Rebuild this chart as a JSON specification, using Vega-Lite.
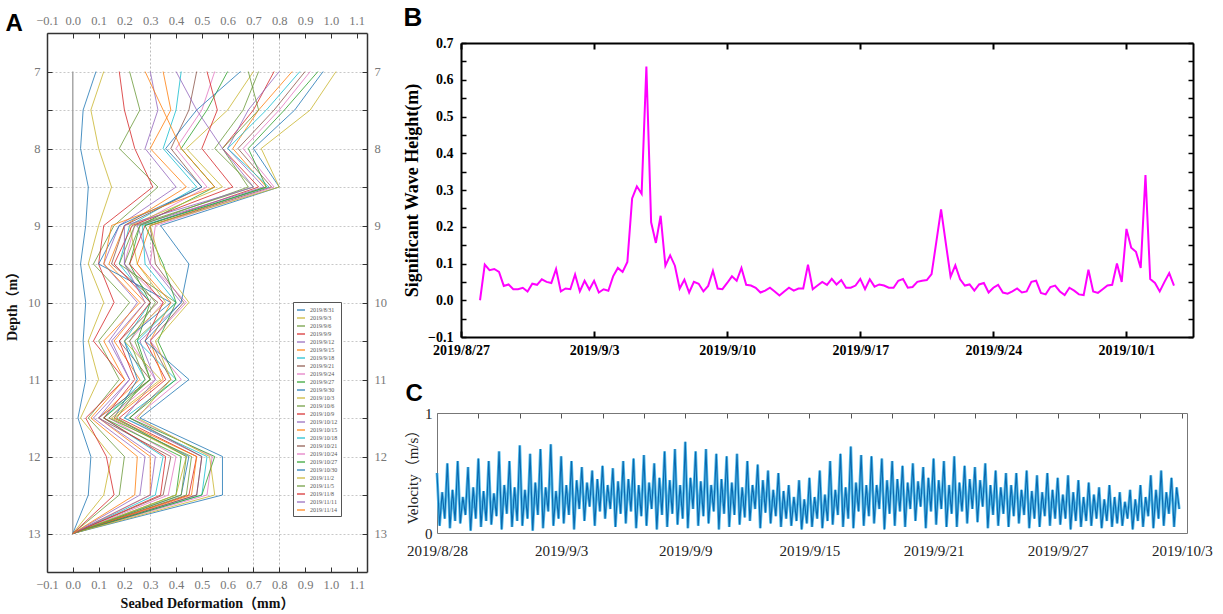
{
"$schema":"https://vega.github.io/schema/vega-lite/v6.json",
"background":"white",
"padding":5,
"config":{"view":{"stroke":null},"font":"Liberation Serif","axis":{"labelFlush":false}},
"datasets":{
"base":[{"y":7,"x":0},{"y":13,"x":0}],
"prof":[
{"s":"2019/8/31","y":7,"x":0.09},{"s":"2019/8/31","y":7.5,"x":0.04},{"s":"2019/8/31","y":8,"x":0.03},{"s":"2019/8/31","y":8.5,"x":0.06},{"s":"2019/8/31","y":9,"x":0.05},{"s":"2019/8/31","y":9.5,"x":0.03},{"s":"2019/8/31","y":10,"x":0.05},{"s":"2019/8/31","y":10.5,"x":0.04},{"s":"2019/8/31","y":11,"x":0.05},{"s":"2019/8/31","y":11.5,"x":0.02},{"s":"2019/8/31","y":12,"x":0.07},{"s":"2019/8/31","y":12.5,"x":0.06},{"s":"2019/8/31","y":13,"x":0},
{"s":"2019/9/3","y":7,"x":0.12},{"s":"2019/9/3","y":7.5,"x":0.07},{"s":"2019/9/3","y":8,"x":0.1},{"s":"2019/9/3","y":8.5,"x":0.15},{"s":"2019/9/3","y":9,"x":0.1},{"s":"2019/9/3","y":9.5,"x":0.06},{"s":"2019/9/3","y":10,"x":0.12},{"s":"2019/9/3","y":10.5,"x":0.06},{"s":"2019/9/3","y":11,"x":0.1},{"s":"2019/9/3","y":11.5,"x":0.03},{"s":"2019/9/3","y":12,"x":0.15},{"s":"2019/9/3","y":12.5,"x":0.12},{"s":"2019/9/3","y":13,"x":0},
{"s":"2019/9/6","y":7,"x":0.22},{"s":"2019/9/6","y":7.5,"x":0.26},{"s":"2019/9/6","y":8,"x":0.18},{"s":"2019/9/6","y":8.5,"x":0.33},{"s":"2019/9/6","y":9,"x":0.16},{"s":"2019/9/6","y":9.5,"x":0.08},{"s":"2019/9/6","y":10,"x":0.22},{"s":"2019/9/6","y":10.5,"x":0.1},{"s":"2019/9/6","y":11,"x":0.18},{"s":"2019/9/6","y":11.5,"x":0.06},{"s":"2019/9/6","y":12,"x":0.2},{"s":"2019/9/6","y":12.5,"x":0.18},{"s":"2019/9/6","y":13,"x":0},
{"s":"2019/9/9","y":7,"x":0.18},{"s":"2019/9/9","y":7.5,"x":0.2},{"s":"2019/9/9","y":8,"x":0.24},{"s":"2019/9/9","y":8.5,"x":0.31},{"s":"2019/9/9","y":9,"x":0.12},{"s":"2019/9/9","y":9.5,"x":0.1},{"s":"2019/9/9","y":10,"x":0.16},{"s":"2019/9/9","y":10.5,"x":0.08},{"s":"2019/9/9","y":11,"x":0.2},{"s":"2019/9/9","y":11.5,"x":0.05},{"s":"2019/9/9","y":12,"x":0.13},{"s":"2019/9/9","y":12.5,"x":0.16},{"s":"2019/9/9","y":13,"x":0},
{"s":"2019/9/12","y":7,"x":0.3},{"s":"2019/9/12","y":7.5,"x":0.33},{"s":"2019/9/12","y":8,"x":0.28},{"s":"2019/9/12","y":8.5,"x":0.4},{"s":"2019/9/12","y":9,"x":0.18},{"s":"2019/9/12","y":9.5,"x":0.12},{"s":"2019/9/12","y":10,"x":0.25},{"s":"2019/9/12","y":10.5,"x":0.14},{"s":"2019/9/12","y":11,"x":0.22},{"s":"2019/9/12","y":11.5,"x":0.08},{"s":"2019/9/12","y":12,"x":0.28},{"s":"2019/9/12","y":12.5,"x":0.26},{"s":"2019/9/12","y":13,"x":0},
{"s":"2019/9/15","y":7,"x":0.35},{"s":"2019/9/15","y":7.5,"x":0.38},{"s":"2019/9/15","y":8,"x":0.3},{"s":"2019/9/15","y":8.5,"x":0.44},{"s":"2019/9/15","y":9,"x":0.2},{"s":"2019/9/15","y":9.5,"x":0.14},{"s":"2019/9/15","y":10,"x":0.28},{"s":"2019/9/15","y":10.5,"x":0.16},{"s":"2019/9/15","y":11,"x":0.26},{"s":"2019/9/15","y":11.5,"x":0.1},{"s":"2019/9/15","y":12,"x":0.3},{"s":"2019/9/15","y":12.5,"x":0.3},{"s":"2019/9/15","y":13,"x":0},
{"s":"2019/9/18","y":7,"x":0.42},{"s":"2019/9/18","y":7.5,"x":0.4},{"s":"2019/9/18","y":8,"x":0.35},{"s":"2019/9/18","y":8.5,"x":0.48},{"s":"2019/9/18","y":9,"x":0.22},{"s":"2019/9/18","y":9.5,"x":0.18},{"s":"2019/9/18","y":10,"x":0.3},{"s":"2019/9/18","y":10.5,"x":0.2},{"s":"2019/9/18","y":11,"x":0.28},{"s":"2019/9/18","y":11.5,"x":0.12},{"s":"2019/9/18","y":12,"x":0.35},{"s":"2019/9/18","y":12.5,"x":0.32},{"s":"2019/9/18","y":13,"x":0},
{"s":"2019/9/21","y":7,"x":0.48},{"s":"2019/9/21","y":7.5,"x":0.45},{"s":"2019/9/21","y":8,"x":0.38},{"s":"2019/9/21","y":8.5,"x":0.5},{"s":"2019/9/21","y":9,"x":0.2},{"s":"2019/9/21","y":9.5,"x":0.15},{"s":"2019/9/21","y":10,"x":0.33},{"s":"2019/9/21","y":10.5,"x":0.18},{"s":"2019/9/21","y":11,"x":0.3},{"s":"2019/9/21","y":11.5,"x":0.1},{"s":"2019/9/21","y":12,"x":0.38},{"s":"2019/9/21","y":12.5,"x":0.35},{"s":"2019/9/21","y":13,"x":0},
{"s":"2019/9/24","y":7,"x":0.55},{"s":"2019/9/24","y":7.5,"x":0.5},{"s":"2019/9/24","y":8,"x":0.4},{"s":"2019/9/24","y":8.5,"x":0.52},{"s":"2019/9/24","y":9,"x":0.24},{"s":"2019/9/24","y":9.5,"x":0.2},{"s":"2019/9/24","y":10,"x":0.35},{"s":"2019/9/24","y":10.5,"x":0.22},{"s":"2019/9/24","y":11,"x":0.32},{"s":"2019/9/24","y":11.5,"x":0.14},{"s":"2019/9/24","y":12,"x":0.4},{"s":"2019/9/24","y":12.5,"x":0.37},{"s":"2019/9/24","y":13,"x":0},
{"s":"2019/9/27","y":7,"x":0.6},{"s":"2019/9/27","y":7.5,"x":0.52},{"s":"2019/9/27","y":8,"x":0.42},{"s":"2019/9/27","y":8.5,"x":0.55},{"s":"2019/9/27","y":9,"x":0.26},{"s":"2019/9/27","y":9.5,"x":0.22},{"s":"2019/9/27","y":10,"x":0.3},{"s":"2019/9/27","y":10.5,"x":0.25},{"s":"2019/9/27","y":11,"x":0.3},{"s":"2019/9/27","y":11.5,"x":0.12},{"s":"2019/9/27","y":12,"x":0.42},{"s":"2019/9/27","y":12.5,"x":0.4},{"s":"2019/9/27","y":13,"x":0},
{"s":"2019/9/30","y":7,"x":0.65},{"s":"2019/9/30","y":7.5,"x":0.48},{"s":"2019/9/30","y":8,"x":0.36},{"s":"2019/9/30","y":8.5,"x":0.5},{"s":"2019/9/30","y":9,"x":0.18},{"s":"2019/9/30","y":9.5,"x":0.1},{"s":"2019/9/30","y":10,"x":0.38},{"s":"2019/9/30","y":10.5,"x":0.2},{"s":"2019/9/30","y":11,"x":0.25},{"s":"2019/9/30","y":11.5,"x":0.16},{"s":"2019/9/30","y":12,"x":0.45},{"s":"2019/9/30","y":12.5,"x":0.42},{"s":"2019/9/30","y":13,"x":0},
{"s":"2019/10/3","y":7,"x":0.7},{"s":"2019/10/3","y":7.5,"x":0.6},{"s":"2019/10/3","y":8,"x":0.44},{"s":"2019/10/3","y":8.5,"x":0.58},{"s":"2019/10/3","y":9,"x":0.22},{"s":"2019/10/3","y":9.5,"x":0.25},{"s":"2019/10/3","y":10,"x":0.36},{"s":"2019/10/3","y":10.5,"x":0.2},{"s":"2019/10/3","y":11,"x":0.34},{"s":"2019/10/3","y":11.5,"x":0.15},{"s":"2019/10/3","y":12,"x":0.44},{"s":"2019/10/3","y":12.5,"x":0.4},{"s":"2019/10/3","y":13,"x":0},
{"s":"2019/10/6","y":7,"x":0.72},{"s":"2019/10/6","y":7.5,"x":0.66},{"s":"2019/10/6","y":8,"x":0.55},{"s":"2019/10/6","y":8.5,"x":0.7},{"s":"2019/10/6","y":9,"x":0.24},{"s":"2019/10/6","y":9.5,"x":0.18},{"s":"2019/10/6","y":10,"x":0.4},{"s":"2019/10/6","y":10.5,"x":0.24},{"s":"2019/10/6","y":11,"x":0.3},{"s":"2019/10/6","y":11.5,"x":0.14},{"s":"2019/10/6","y":12,"x":0.46},{"s":"2019/10/6","y":12.5,"x":0.44},{"s":"2019/10/6","y":13,"x":0},
{"s":"2019/10/9","y":7,"x":0.78},{"s":"2019/10/9","y":7.5,"x":0.7},{"s":"2019/10/9","y":8,"x":0.58},{"s":"2019/10/9","y":8.5,"x":0.72},{"s":"2019/10/9","y":9,"x":0.28},{"s":"2019/10/9","y":9.5,"x":0.22},{"s":"2019/10/9","y":10,"x":0.35},{"s":"2019/10/9","y":10.5,"x":0.28},{"s":"2019/10/9","y":11,"x":0.36},{"s":"2019/10/9","y":11.5,"x":0.18},{"s":"2019/10/9","y":12,"x":0.48},{"s":"2019/10/9","y":12.5,"x":0.45},{"s":"2019/10/9","y":13,"x":0},
{"s":"2019/10/12","y":7,"x":0.8},{"s":"2019/10/12","y":7.5,"x":0.68},{"s":"2019/10/12","y":8,"x":0.6},{"s":"2019/10/12","y":8.5,"x":0.74},{"s":"2019/10/12","y":9,"x":0.25},{"s":"2019/10/12","y":9.5,"x":0.3},{"s":"2019/10/12","y":10,"x":0.42},{"s":"2019/10/12","y":10.5,"x":0.26},{"s":"2019/10/12","y":11,"x":0.32},{"s":"2019/10/12","y":11.5,"x":0.2},{"s":"2019/10/12","y":12,"x":0.5},{"s":"2019/10/12","y":12.5,"x":0.48},{"s":"2019/10/12","y":13,"x":0},
{"s":"2019/10/15","y":7,"x":0.85},{"s":"2019/10/15","y":7.5,"x":0.72},{"s":"2019/10/15","y":8,"x":0.62},{"s":"2019/10/15","y":8.5,"x":0.75},{"s":"2019/10/15","y":9,"x":0.3},{"s":"2019/10/15","y":9.5,"x":0.25},{"s":"2019/10/15","y":10,"x":0.38},{"s":"2019/10/15","y":10.5,"x":0.3},{"s":"2019/10/15","y":11,"x":0.35},{"s":"2019/10/15","y":11.5,"x":0.16},{"s":"2019/10/15","y":12,"x":0.48},{"s":"2019/10/15","y":12.5,"x":0.46},{"s":"2019/10/15","y":13,"x":0},
{"s":"2019/10/18","y":7,"x":0.88},{"s":"2019/10/18","y":7.5,"x":0.75},{"s":"2019/10/18","y":8,"x":0.6},{"s":"2019/10/18","y":8.5,"x":0.76},{"s":"2019/10/18","y":9,"x":0.27},{"s":"2019/10/18","y":9.5,"x":0.28},{"s":"2019/10/18","y":10,"x":0.4},{"s":"2019/10/18","y":10.5,"x":0.25},{"s":"2019/10/18","y":11,"x":0.4},{"s":"2019/10/18","y":11.5,"x":0.2},{"s":"2019/10/18","y":12,"x":0.52},{"s":"2019/10/18","y":12.5,"x":0.5},{"s":"2019/10/18","y":13,"x":0},
{"s":"2019/10/21","y":7,"x":0.9},{"s":"2019/10/21","y":7.5,"x":0.78},{"s":"2019/10/21","y":8,"x":0.64},{"s":"2019/10/21","y":8.5,"x":0.77},{"s":"2019/10/21","y":9,"x":0.3},{"s":"2019/10/21","y":9.5,"x":0.32},{"s":"2019/10/21","y":10,"x":0.43},{"s":"2019/10/21","y":10.5,"x":0.3},{"s":"2019/10/21","y":11,"x":0.38},{"s":"2019/10/21","y":11.5,"x":0.22},{"s":"2019/10/21","y":12,"x":0.5},{"s":"2019/10/21","y":12.5,"x":0.48},{"s":"2019/10/21","y":13,"x":0},
{"s":"2019/10/24","y":7,"x":0.92},{"s":"2019/10/24","y":7.5,"x":0.8},{"s":"2019/10/24","y":8,"x":0.66},{"s":"2019/10/24","y":8.5,"x":0.78},{"s":"2019/10/24","y":9,"x":0.32},{"s":"2019/10/24","y":9.5,"x":0.3},{"s":"2019/10/24","y":10,"x":0.44},{"s":"2019/10/24","y":10.5,"x":0.3},{"s":"2019/10/24","y":11,"x":0.42},{"s":"2019/10/24","y":11.5,"x":0.24},{"s":"2019/10/24","y":12,"x":0.54},{"s":"2019/10/24","y":12.5,"x":0.52},{"s":"2019/10/24","y":13,"x":0},
{"s":"2019/10/27","y":7,"x":0.95},{"s":"2019/10/27","y":7.5,"x":0.82},{"s":"2019/10/27","y":8,"x":0.68},{"s":"2019/10/27","y":8.5,"x":0.75},{"s":"2019/10/27","y":9,"x":0.28},{"s":"2019/10/27","y":9.5,"x":0.35},{"s":"2019/10/27","y":10,"x":0.4},{"s":"2019/10/27","y":10.5,"x":0.33},{"s":"2019/10/27","y":11,"x":0.4},{"s":"2019/10/27","y":11.5,"x":0.22},{"s":"2019/10/27","y":12,"x":0.55},{"s":"2019/10/27","y":12.5,"x":0.5},{"s":"2019/10/27","y":13,"x":0},
{"s":"2019/10/30","y":7,"x":0.97},{"s":"2019/10/30","y":7.5,"x":0.86},{"s":"2019/10/30","y":8,"x":0.7},{"s":"2019/10/30","y":8.5,"x":0.8},{"s":"2019/10/30","y":9,"x":0.34},{"s":"2019/10/30","y":9.5,"x":0.45},{"s":"2019/10/30","y":10,"x":0.42},{"s":"2019/10/30","y":10.5,"x":0.28},{"s":"2019/10/30","y":11,"x":0.45},{"s":"2019/10/30","y":11.5,"x":0.26},{"s":"2019/10/30","y":12,"x":0.58},{"s":"2019/10/30","y":12.5,"x":0.58},{"s":"2019/10/30","y":13,"x":0},
{"s":"2019/11/2","y":7,"x":1.02},{"s":"2019/11/2","y":7.5,"x":0.92},{"s":"2019/11/2","y":8,"x":0.73},{"s":"2019/11/2","y":8.5,"x":0.8},{"s":"2019/11/2","y":9,"x":0.3},{"s":"2019/11/2","y":9.5,"x":0.34},{"s":"2019/11/2","y":10,"x":0.45},{"s":"2019/11/2","y":10.5,"x":0.32},{"s":"2019/11/2","y":11,"x":0.38},{"s":"2019/11/2","y":11.5,"x":0.25},{"s":"2019/11/2","y":12,"x":0.53},{"s":"2019/11/2","y":12.5,"x":0.55},{"s":"2019/11/2","y":13,"x":0},
{"s":"2019/11/5","y":7,"x":0.68},{"s":"2019/11/5","y":7.5,"x":0.72},{"s":"2019/11/5","y":8,"x":0.58},{"s":"2019/11/5","y":8.5,"x":0.68},{"s":"2019/11/5","y":9,"x":0.26},{"s":"2019/11/5","y":9.5,"x":0.2},{"s":"2019/11/5","y":10,"x":0.32},{"s":"2019/11/5","y":10.5,"x":0.22},{"s":"2019/11/5","y":11,"x":0.28},{"s":"2019/11/5","y":11.5,"x":0.17},{"s":"2019/11/5","y":12,"x":0.44},{"s":"2019/11/5","y":12.5,"x":0.42},{"s":"2019/11/5","y":13,"x":0},
{"s":"2019/11/8","y":7,"x":0.52},{"s":"2019/11/8","y":7.5,"x":0.56},{"s":"2019/11/8","y":8,"x":0.5},{"s":"2019/11/8","y":8.5,"x":0.62},{"s":"2019/11/8","y":9,"x":0.23},{"s":"2019/11/8","y":9.5,"x":0.16},{"s":"2019/11/8","y":10,"x":0.3},{"s":"2019/11/8","y":10.5,"x":0.18},{"s":"2019/11/8","y":11,"x":0.24},{"s":"2019/11/8","y":11.5,"x":0.12},{"s":"2019/11/8","y":12,"x":0.36},{"s":"2019/11/8","y":12.5,"x":0.34},{"s":"2019/11/8","y":13,"x":0},
{"s":"2019/11/11","y":7,"x":0.4},{"s":"2019/11/11","y":7.5,"x":0.48},{"s":"2019/11/11","y":8,"x":0.58},{"s":"2019/11/11","y":8.5,"x":0.7},{"s":"2019/11/11","y":9,"x":0.2},{"s":"2019/11/11","y":9.5,"x":0.2},{"s":"2019/11/11","y":10,"x":0.28},{"s":"2019/11/11","y":10.5,"x":0.15},{"s":"2019/11/11","y":11,"x":0.22},{"s":"2019/11/11","y":11.5,"x":0.1},{"s":"2019/11/11","y":12,"x":0.32},{"s":"2019/11/11","y":12.5,"x":0.3},{"s":"2019/11/11","y":13,"x":0},
{"s":"2019/11/14","y":7,"x":0.28},{"s":"2019/11/14","y":7.5,"x":0.35},{"s":"2019/11/14","y":8,"x":0.42},{"s":"2019/11/14","y":8.5,"x":0.55},{"s":"2019/11/14","y":9,"x":0.15},{"s":"2019/11/14","y":9.5,"x":0.12},{"s":"2019/11/14","y":10,"x":0.26},{"s":"2019/11/14","y":10.5,"x":0.12},{"s":"2019/11/14","y":11,"x":0.2},{"s":"2019/11/14","y":11.5,"x":0.07},{"s":"2019/11/14","y":12,"x":0.25},{"s":"2019/11/14","y":12.5,"x":0.24},{"s":"2019/11/14","y":13,"x":0}
],
"wave":[
{"d":1,"v":0},{"d":1.25,"v":0.097},{"d":1.5,"v":0.082},{"d":1.75,"v":0.085},{"d":2,"v":0.077},{"d":2.25,"v":0.039},{"d":2.5,"v":0.043},{"d":2.75,"v":0.03},{"d":3,"v":0.03},{"d":3.25,"v":0.034},{"d":3.5,"v":0.024},{"d":3.75,"v":0.045},{"d":4,"v":0.042},{"d":4.25,"v":0.057},{"d":4.5,"v":0.05},{"d":4.75,"v":0.047},{"d":5,"v":0.085},{"d":5.25,"v":0.024},{"d":5.5,"v":0.032},{"d":5.75,"v":0.03},{"d":6,"v":0.07},{"d":6.25,"v":0.024},{"d":6.5,"v":0.053},{"d":6.75,"v":0.029},{"d":7,"v":0.053},{"d":7.25,"v":0.021},{"d":7.5,"v":0.03},{"d":7.75,"v":0.026},{"d":8,"v":0.065},{"d":8.25,"v":0.088},{"d":8.5,"v":0.077},{"d":8.75,"v":0.104},{"d":9,"v":0.277},{"d":9.25,"v":0.31},{"d":9.5,"v":0.29},{"d":9.75,"v":0.636},{"d":10,"v":0.212},{"d":10.25,"v":0.156},{"d":10.5,"v":0.23},{"d":10.75,"v":0.094},{"d":11,"v":0.122},{"d":11.25,"v":0.094},{"d":11.5,"v":0.032},{"d":11.75,"v":0.056},{"d":12,"v":0.021},{"d":12.25,"v":0.05},{"d":12.5,"v":0.045},{"d":12.75,"v":0.024},{"d":13,"v":0.039},{"d":13.25,"v":0.08},{"d":13.5,"v":0.032},{"d":13.75,"v":0.03},{"d":14,"v":0.047},{"d":14.25,"v":0.065},{"d":14.5,"v":0.053},{"d":14.75,"v":0.088},{"d":15,"v":0.042},{"d":15.25,"v":0.04},{"d":15.5,"v":0.034},{"d":15.75,"v":0.021},{"d":16,"v":0.026},{"d":16.25,"v":0.034},{"d":16.5,"v":0.024},{"d":16.75,"v":0.013},{"d":17,"v":0.024},{"d":17.25,"v":0.034},{"d":17.5,"v":0.026},{"d":17.75,"v":0.032},{"d":18,"v":0.032},{"d":18.25,"v":0.097},
{"d":18.5,"v":0.03},{"d":18.75,"v":0.04},{"d":19,"v":0.05},{"d":19.25,"v":0.042},{"d":19.5,"v":0.058},{"d":19.75,"v":0.043},{"d":20,"v":0.055},{"d":20.25,"v":0.034},{"d":20.5,"v":0.034},{"d":20.75,"v":0.04},{"d":21,"v":0.058},{"d":21.25,"v":0.03},{"d":21.5,"v":0.057},{"d":21.75,"v":0.037},{"d":22,"v":0.043},{"d":22.25,"v":0.04},{"d":22.5,"v":0.034},{"d":22.75,"v":0.034},{"d":23,"v":0.053},{"d":23.25,"v":0.058},{"d":23.5,"v":0.034},{"d":23.75,"v":0.036},{"d":24,"v":0.05},{"d":24.25,"v":0.053},{"d":24.5,"v":0.055},{"d":24.75,"v":0.071},{"d":25,"v":0.159},{"d":25.25,"v":0.247},{"d":25.5,"v":0.155},{"d":25.75,"v":0.064},{"d":26,"v":0.095},{"d":26.25,"v":0.057},{"d":26.5,"v":0.04},{"d":26.75,"v":0.043},{"d":27,"v":0.026},{"d":27.25,"v":0.043},{"d":27.5,"v":0.047},{"d":27.75,"v":0.021},{"d":28,"v":0.034},{"d":28.25,"v":0.042},{"d":28.5,"v":0.021},{"d":28.75,"v":0.018},{"d":29,"v":0.024},{"d":29.25,"v":0.032},{"d":29.5,"v":0.021},{"d":29.75,"v":0.024},{"d":30,"v":0.05},{"d":30.25,"v":0.053},{"d":30.5,"v":0.02},{"d":30.75,"v":0.016},{"d":31,"v":0.036},{"d":31.25,"v":0.04},{"d":31.5,"v":0.024},{"d":31.75,"v":0.014},{"d":32,"v":0.034},{"d":32.25,"v":0.026},{"d":32.5,"v":0.016},{"d":32.75,"v":0.014},{"d":33,"v":0.083},{"d":33.25,"v":0.024},{"d":33.5,"v":0.02},{"d":33.75,"v":0.03},{"d":34,"v":0.04},{"d":34.25,"v":0.042},{"d":34.5,"v":0.1},{"d":34.75,"v":0.05},{"d":35,"v":0.194},{"d":35.25,"v":0.143},{"d":35.5,"v":0.132},{"d":35.75,"v":0.088},{"d":36,"v":0.341},{"d":36.25,"v":0.058},{"d":36.5,"v":0.047},{"d":36.75,"v":0.024},{"d":37,"v":0.05},{"d":37.25,"v":0.074},{"d":37.5,"v":0.04}
],
"vel":[
{"h":0,"v":0.5},{"h":3,"v":0.06},{"h":6,"v":0.34},{"h":9,"v":0.12},{"h":12,"v":0.58},{"h":15,"v":0.04},{"h":18,"v":0.36},{"h":21,"v":0.1},
{"h":24,"v":0.6},{"h":27,"v":0.08},{"h":30,"v":0.3},{"h":33,"v":0.15},{"h":36,"v":0.55},{"h":39,"v":0.02},{"h":42,"v":0.38},{"h":45,"v":0.12},
{"h":48,"v":0.62},{"h":51,"v":0.05},{"h":54,"v":0.35},{"h":57,"v":0.1},{"h":60,"v":0.6},{"h":63,"v":0.07},{"h":66,"v":0.33},{"h":69,"v":0.14},
{"h":72,"v":0.68},{"h":75,"v":0.03},{"h":78,"v":0.4},{"h":81,"v":0.16},{"h":84,"v":0.6},{"h":87,"v":0.05},{"h":90,"v":0.38},{"h":93,"v":0.1},
{"h":96,"v":0.73},{"h":99,"v":0.06},{"h":102,"v":0.36},{"h":105,"v":0.12},{"h":108,"v":0.66},{"h":111,"v":0.02},{"h":114,"v":0.42},{"h":117,"v":0.15},
{"h":120,"v":0.7},{"h":123,"v":0.04},{"h":126,"v":0.38},{"h":129,"v":0.18},{"h":132,"v":0.74},{"h":135,"v":0.06},{"h":138,"v":0.35},{"h":141,"v":0.12},
{"h":144,"v":0.64},{"h":147,"v":0.08},{"h":150,"v":0.4},{"h":153,"v":0.15},{"h":156,"v":0.6},{"h":159,"v":0.03},{"h":162,"v":0.44},{"h":165,"v":0.2},
{"h":168,"v":0.55},{"h":171,"v":0.1},{"h":174,"v":0.42},{"h":177,"v":0.22},{"h":180,"v":0.52},{"h":183,"v":0.06},{"h":186,"v":0.45},{"h":189,"v":0.18},
{"h":192,"v":0.56},{"h":195,"v":0.12},{"h":198,"v":0.4},{"h":201,"v":0.2},{"h":204,"v":0.54},{"h":207,"v":0.05},{"h":210,"v":0.43},{"h":213,"v":0.16},
{"h":216,"v":0.6},{"h":219,"v":0.08},{"h":222,"v":0.45},{"h":225,"v":0.18},{"h":228,"v":0.62},{"h":231,"v":0.04},{"h":234,"v":0.4},{"h":237,"v":0.14},
{"h":240,"v":0.65},{"h":243,"v":0.06},{"h":246,"v":0.42},{"h":249,"v":0.2},{"h":252,"v":0.58},{"h":255,"v":0.03},{"h":258,"v":0.46},{"h":261,"v":0.15},
{"h":264,"v":0.68},{"h":267,"v":0.05},{"h":270,"v":0.44},{"h":273,"v":0.16},{"h":276,"v":0.7},{"h":279,"v":0.07},{"h":282,"v":0.4},{"h":285,"v":0.12},
{"h":288,"v":0.76},{"h":291,"v":0.04},{"h":294,"v":0.46},{"h":297,"v":0.2},{"h":300,"v":0.68},{"h":303,"v":0.06},{"h":306,"v":0.43},{"h":309,"v":0.14},
{"h":312,"v":0.7},{"h":315,"v":0.08},{"h":318,"v":0.4},{"h":321,"v":0.18},{"h":324,"v":0.66},{"h":327,"v":0.03},{"h":330,"v":0.45},{"h":333,"v":0.16},
{"h":336,"v":0.64},{"h":339,"v":0.05},{"h":342,"v":0.42},{"h":345,"v":0.15},{"h":348,"v":0.66},{"h":351,"v":0.07},{"h":354,"v":0.38},{"h":357,"v":0.13},
{"h":360,"v":0.6},{"h":363,"v":0.1},{"h":366,"v":0.4},{"h":369,"v":0.2},{"h":372,"v":0.57},{"h":375,"v":0.04},{"h":378,"v":0.44},{"h":381,"v":0.17},
{"h":384,"v":0.52},{"h":387,"v":0.08},{"h":390,"v":0.36},{"h":393,"v":0.14},{"h":396,"v":0.5},{"h":399,"v":0.05},{"h":402,"v":0.35},{"h":405,"v":0.12},
{"h":408,"v":0.4},{"h":411,"v":0.06},{"h":414,"v":0.3},{"h":417,"v":0.1},{"h":420,"v":0.44},{"h":423,"v":0.03},{"h":426,"v":0.28},{"h":429,"v":0.08},
{"h":432,"v":0.46},{"h":435,"v":0.05},{"h":438,"v":0.3},{"h":441,"v":0.12},{"h":444,"v":0.52},{"h":447,"v":0.04},{"h":450,"v":0.32},{"h":453,"v":0.1},
{"h":456,"v":0.6},{"h":459,"v":0.07},{"h":462,"v":0.36},{"h":465,"v":0.15},{"h":468,"v":0.66},{"h":471,"v":0.05},{"h":474,"v":0.38},{"h":477,"v":0.12},
{"h":480,"v":0.72},{"h":483,"v":0.04},{"h":486,"v":0.42},{"h":489,"v":0.18},{"h":492,"v":0.65},{"h":495,"v":0.06},{"h":498,"v":0.4},{"h":501,"v":0.14},
{"h":504,"v":0.64},{"h":507,"v":0.08},{"h":510,"v":0.4},{"h":513,"v":0.2},{"h":516,"v":0.62},{"h":519,"v":0.03},{"h":522,"v":0.44},{"h":525,"v":0.16},
{"h":528,"v":0.6},{"h":531,"v":0.06},{"h":534,"v":0.45},{"h":537,"v":0.18},{"h":540,"v":0.56},{"h":543,"v":0.05},{"h":546,"v":0.42},{"h":549,"v":0.2},
{"h":552,"v":0.58},{"h":555,"v":0.1},{"h":558,"v":0.43},{"h":561,"v":0.22},{"h":564,"v":0.55},{"h":567,"v":0.04},{"h":570,"v":0.46},{"h":573,"v":0.18},
{"h":576,"v":0.62},{"h":579,"v":0.07},{"h":582,"v":0.44},{"h":585,"v":0.2},{"h":588,"v":0.6},{"h":591,"v":0.05},{"h":594,"v":0.4},{"h":597,"v":0.16},
{"h":600,"v":0.64},{"h":603,"v":0.05},{"h":606,"v":0.42},{"h":609,"v":0.18},{"h":612,"v":0.56},{"h":615,"v":0.08},{"h":618,"v":0.45},{"h":621,"v":0.2},
{"h":624,"v":0.55},{"h":627,"v":0.09},{"h":630,"v":0.44},{"h":633,"v":0.22},{"h":636,"v":0.58},{"h":639,"v":0.04},{"h":642,"v":0.4},{"h":645,"v":0.15},
{"h":648,"v":0.52},{"h":651,"v":0.06},{"h":654,"v":0.38},{"h":657,"v":0.16},{"h":660,"v":0.5},{"h":663,"v":0.05},{"h":666,"v":0.4},{"h":669,"v":0.14},
{"h":672,"v":0.5},{"h":675,"v":0.08},{"h":678,"v":0.36},{"h":681,"v":0.15},{"h":684,"v":0.52},{"h":687,"v":0.04},{"h":690,"v":0.35},{"h":693,"v":0.12},
{"h":696,"v":0.48},{"h":699,"v":0.05},{"h":702,"v":0.34},{"h":705,"v":0.14},{"h":708,"v":0.5},{"h":711,"v":0.06},{"h":714,"v":0.36},{"h":717,"v":0.12},
{"h":720,"v":0.46},{"h":723,"v":0.07},{"h":726,"v":0.32},{"h":729,"v":0.12},{"h":732,"v":0.48},{"h":735,"v":0.03},{"h":738,"v":0.34},{"h":741,"v":0.1},
{"h":744,"v":0.44},{"h":747,"v":0.05},{"h":750,"v":0.3},{"h":753,"v":0.1},{"h":756,"v":0.42},{"h":759,"v":0.06},{"h":762,"v":0.32},{"h":765,"v":0.12},
{"h":768,"v":0.38},{"h":771,"v":0.04},{"h":774,"v":0.28},{"h":777,"v":0.1},{"h":780,"v":0.4},{"h":783,"v":0.05},{"h":786,"v":0.3},{"h":789,"v":0.08},
{"h":792,"v":0.34},{"h":795,"v":0.06},{"h":798,"v":0.26},{"h":801,"v":0.12},{"h":804,"v":0.36},{"h":807,"v":0.03},{"h":810,"v":0.28},{"h":813,"v":0.1},
{"h":816,"v":0.4},{"h":819,"v":0.05},{"h":822,"v":0.3},{"h":825,"v":0.14},{"h":828,"v":0.48},{"h":831,"v":0.04},{"h":834,"v":0.36},{"h":837,"v":0.12},
{"h":840,"v":0.52},{"h":843,"v":0.06},{"h":846,"v":0.34},{"h":849,"v":0.16},{"h":852,"v":0.46},{"h":855,"v":0.05},{"h":858,"v":0.38},{"h":861,"v":0.2}
]
},
"spacing":16,
"hconcat":[
{
"width":320,"height":539,
"title":{"text":"A","anchor":"start","frame":"bounds","font":"Liberation Sans","fontSize":24,"fontWeight":"bold","color":"black","offset":-22},
"layer":[
{"data":{"name":"base"},"mark":{"type":"line","color":"#9a9a9a","strokeWidth":1.3},
"encoding":{
"x":{"field":"x","type":"quantitative","scale":{"domain":[-0.1,1.14],"nice":false,"zero":false},
"axis":{"orient":"bottom","values":[-0.1,0,0.1,0.2,0.3,0.4,0.5,0.6,0.7,0.8,0.9,1,1.1],"format":".1f","labelOverlap":false,"tickSize":-5,"tickColor":"#333","labelPadding":11,"labelFont":"Liberation Serif","labelFontSize":12.5,"labelColor":"#777","domainColor":"#333","domainWidth":1.5,"title":"Seabed Deformation（mm）","titleFont":"Liberation Serif, Noto Sans CJK SC","titleFontSize":14,"titleFontWeight":"bold","titleColor":"#111","titlePadding":6,"grid":true,"gridDash":[2,2],"gridColor":"#bbbbbb","gridOpacity":{"condition":{"test":"datum.value == 0.3 || datum.value == 0.7 || datum.value == 0.8","value":1},"value":0}}},
"y":{"field":"y","type":"quantitative","scale":{"domain":[6.5,13.5],"reverse":true,"nice":false,"zero":false},
"axis":{"orient":"left","values":[7,7.5,8,8.5,9,9.5,10,10.5,11,11.5,12,12.5,13],"labelExpr":"datum.value % 1 == 0 ? format(datum.value,'d') : ''","labelOverlap":false,"tickSize":-5,"tickColor":"#333","labelPadding":12,"labelFont":"Liberation Serif","labelFontSize":12.5,"labelColor":"#777","domainColor":"#333","domainWidth":1.5,"title":"Depth（m）","titleFont":"Liberation Serif, Noto Sans CJK SC","titleFontSize":14,"titleFontWeight":"bold","titleColor":"#111","titlePadding":8,"grid":true,"gridDash":[2,2],"gridColor":"#c8c8c8"}}
}},
{"data":{"name":"prof"},"mark":{"type":"line","strokeWidth":1,"opacity":0.8},
"encoding":{
"x":{"field":"x","type":"quantitative","axis":{"orient":"top","values":[-0.1,0,0.1,0.2,0.3,0.4,0.5,0.6,0.7,0.8,0.9,1,1.1],"format":".1f","labelOverlap":false,"tickSize":-5,"tickColor":"#333","labelPadding":11,"labelFont":"Liberation Serif","labelFontSize":12.5,"labelColor":"#777","domainColor":"#333","domainWidth":1.5,"title":null,"grid":false}},
"y":{"field":"y","type":"quantitative","axis":{"orient":"right","values":[7,7.5,8,8.5,9,9.5,10,10.5,11,11.5,12,12.5,13],"labelExpr":"datum.value % 1 == 0 ? format(datum.value,'d') : ''","labelOverlap":false,"tickSize":-5,"tickColor":"#333","labelPadding":12,"labelFont":"Liberation Serif","labelFontSize":12.5,"labelColor":"#777","domainColor":"#333","domainWidth":1.5,"title":null,"grid":false}},
"order":{"field":"y","type":"quantitative"},
"color":{"field":"s","type":"nominal","sort":null,
"scale":{"range":["#1f77b4","#c9b52e","#6b9a3a","#d62728","#9467bd","#ff7f0e","#17becf","#8c564b","#e377c2","#2ca02c"]},
"legend":{"orient":"none","legendX":246,"legendY":269,"title":null,"symbolType":"stroke","symbolStrokeWidth":1.5,"symbolSize":64,"labelFontSize":6,"labelFont":"Liberation Serif","labelColor":"#555","rowPadding":0,"padding":3,"strokeColor":"#555","fillColor":"white","labelLimit":60}}
}}
],
"resolve":{"axis":{"x":"independent","y":"independent"}}
},
{
"spacing":25,
"vconcat":[
{
"width":756,"height":304,
"title":{"text":"B","anchor":"start","frame":"bounds","font":"Liberation Sans","fontSize":26,"fontWeight":"bold","color":"black","offset":2},
"data":{"name":"wave"},
"layer":[
{"mark":{"type":"line","color":"#ff00ff","strokeWidth":2},
"encoding":{
"x":{"field":"d","type":"quantitative","scale":{"domain":[0,38.5],"range":[24,756],"nice":false,"zero":false},
"axis":{"orient":"bottom","values":[0,7,14,21,28,35],"labelExpr":"{'0':'2019/8/27','7':'2019/9/3','14':'2019/9/10','21':'2019/9/17','28':'2019/9/24','35':'2019/10/1'}[datum.value]","labelOverlap":false,"tickSize":-6,"tickColor":"#000","tickWidth":2,"labelPadding":12,"labelFont":"Liberation Serif","labelFontSize":14,"labelFontWeight":"bold","labelColor":"#000","domainColor":"#000","domainWidth":2,"title":null,"grid":false}},
"y":{"field":"v","type":"quantitative","scale":{"domain":[-0.1,0.7],"range":[304,10],"nice":false,"zero":false},
"axis":{"orient":"left","offset":-24,"values":[-0.1,-0.05,0,0.05,0.1,0.15,0.2,0.25,0.3,0.35,0.4,0.45,0.5,0.55,0.6,0.65,0.7],"labelExpr":"abs(datum.value*10 - round(datum.value*10)) < 0.01 ? format(datum.value,'.1f') : ''","labelOverlap":false,"tickSize":-5,"tickColor":"#000","tickWidth":1.5,"labelPadding":13,"labelFont":"Liberation Serif","labelFontSize":14,"labelFontWeight":"bold","labelColor":"#000","domainColor":"#000","domainWidth":2,"title":"Significant Wave Height(m)","titleFont":"Liberation Serif","titleFontSize":18,"titleFontWeight":"bold","titleColor":"#000","titlePadding":6,"grid":false}}
}},
{"mark":{"type":"line","opacity":0},
"encoding":{
"x":{"field":"d","type":"quantitative","axis":{"orient":"top","offset":-10,"values":[0,7,14,21,28,35],"labels":false,"tickSize":-6,"tickColor":"#000","tickWidth":2,"domainColor":"#000","domainWidth":2,"title":null,"grid":false}},
"y":{"field":"v","type":"quantitative","axis":{"orient":"right","values":[-0.1,-0.05,0,0.05,0.1,0.15,0.2,0.25,0.3,0.35,0.4,0.45,0.5,0.55,0.6,0.65,0.7],"labels":false,"tickSize":-5,"tickColor":"#000","tickWidth":1.5,"domainColor":"#000","domainWidth":2,"title":null,"grid":false}}
}}
],
"resolve":{"axis":{"x":"independent","y":"independent"}}
},
{
"width":750,"height":120,
"title":{"text":"C","anchor":"start","frame":"bounds","font":"Liberation Sans","fontSize":24,"fontWeight":"bold","color":"black","offset":0},
"data":{"name":"vel"},
"layer":[
{"mark":{"type":"line","color":"#55bdec","strokeWidth":2.8},
"encoding":{
"x":{"field":"h","type":"quantitative","scale":{"domain":[0,870],"nice":false,"zero":false},
"axis":{"orient":"bottom","values":[0,144,288,432,576,720,864],"labelExpr":"{'0':'2019/8/28','144':'2019/9/3','288':'2019/9/9','432':'2019/9/15','576':'2019/9/21','720':'2019/9/27','864':'2019/10/3'}[datum.value]","labelOverlap":false,"ticks":false,"labelPadding":10,"labelFont":"Liberation Serif","labelFontSize":15,"labelColor":"#222","domainColor":"#777","domainWidth":1,"title":null,"grid":false}},
"y":{"field":"v","type":"quantitative","scale":{"domain":[0,1],"nice":false,"zero":false},
"axis":{"orient":"left","values":[0,1],"format":"d","ticks":false,"labelPadding":5,"labelFont":"Liberation Serif","labelFontSize":15,"labelColor":"#222","domainColor":"#777","domainWidth":1,"title":"Velocity（m/s）","titleFont":"Liberation Serif, Noto Sans CJK SC","titleFontSize":15,"titleFontWeight":"normal","titleColor":"#222","titlePadding":4,"grid":false}}
}},
{"mark":{"type":"line","color":"#0a68ae","strokeWidth":1.1},
"encoding":{
"x":{"field":"h","type":"quantitative","axis":{"orient":"top","values":[0,48,96,144,192,240,288,336,384,432,480,528,576,624,672,720,768,816,864],"labels":false,"tickSize":-5,"tickColor":"#555","domainColor":"#777","domainWidth":1,"title":null,"grid":false}},
"y":{"field":"v","type":"quantitative","axis":{"orient":"right","labels":false,"ticks":false,"domainColor":"#777","domainWidth":1,"title":null,"grid":false}}
}}
],
"resolve":{"axis":{"x":"independent","y":"independent"}}
}
]
}
]
}
